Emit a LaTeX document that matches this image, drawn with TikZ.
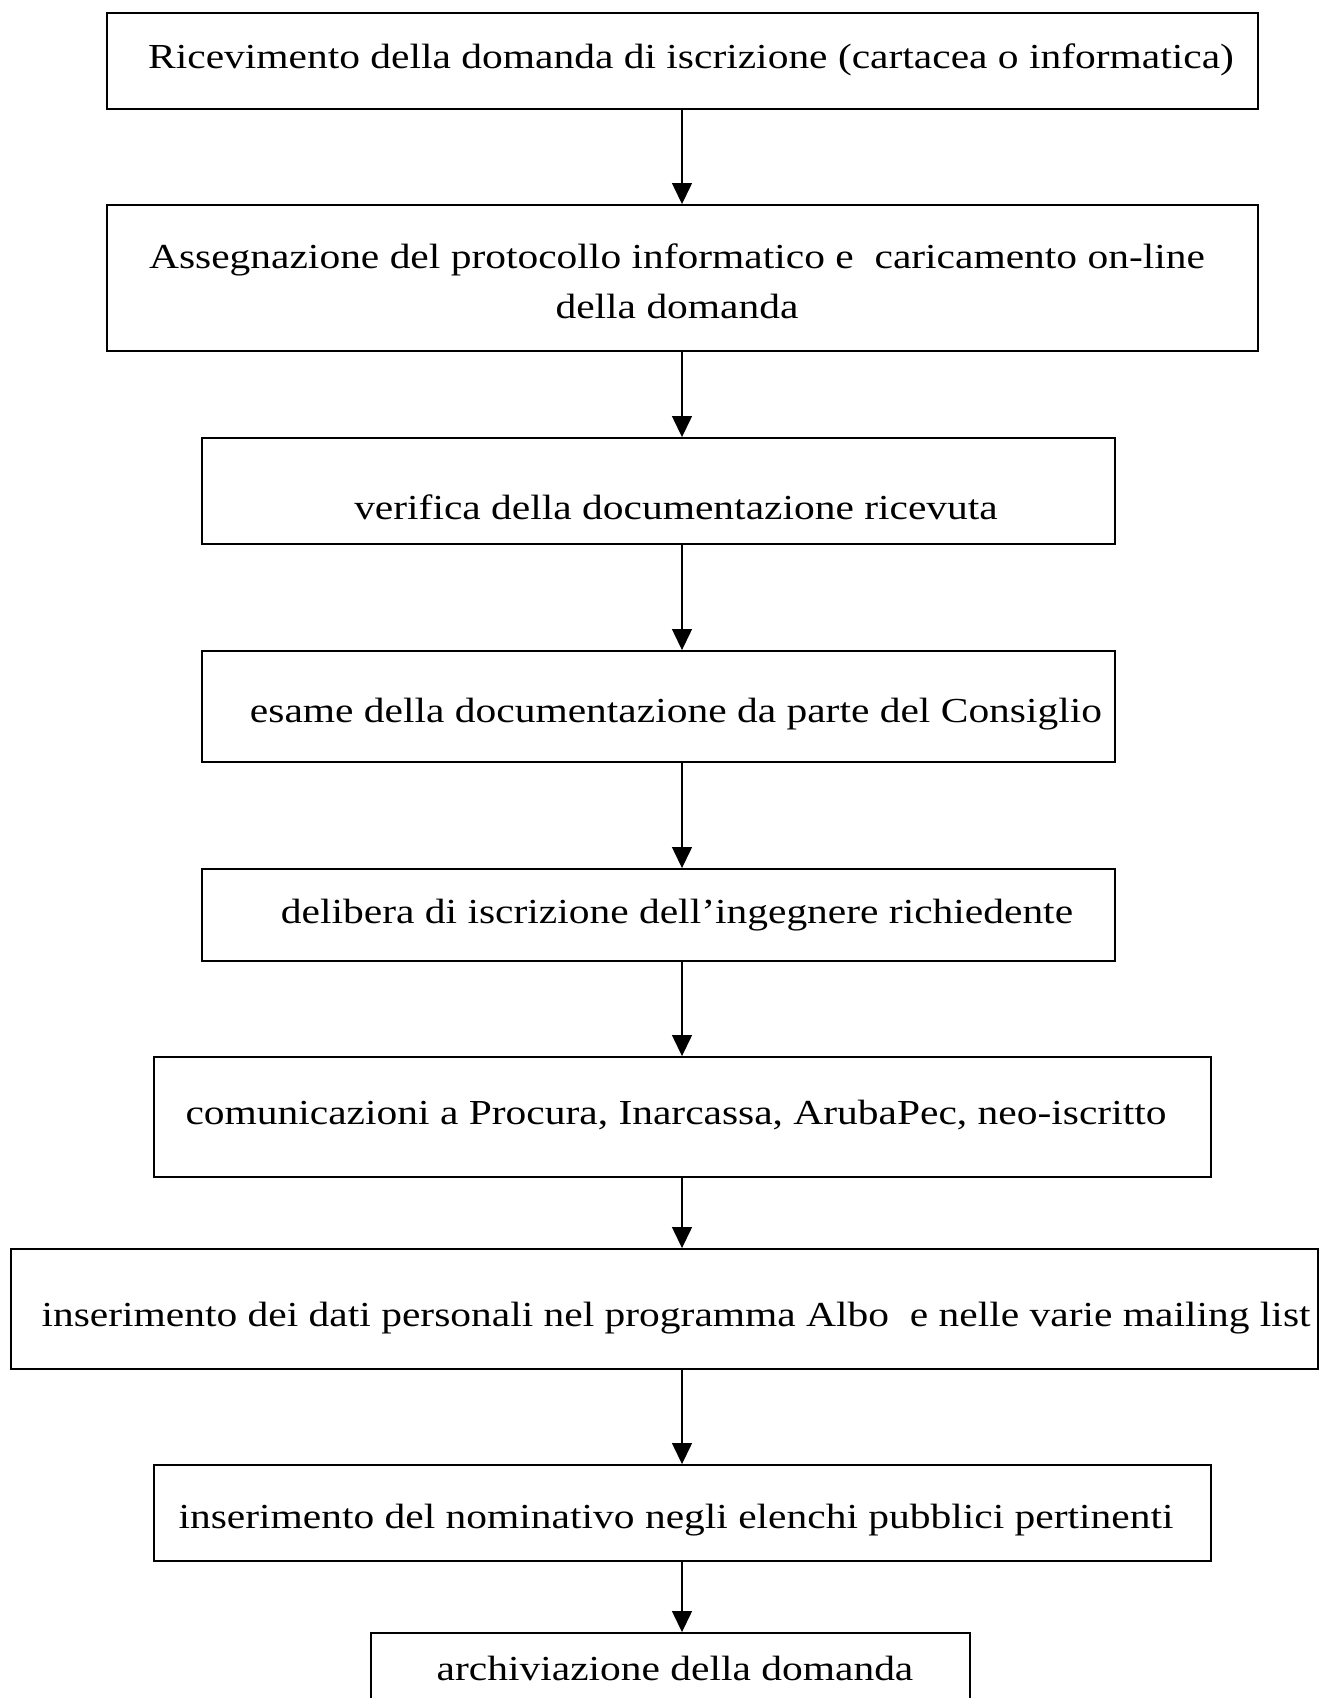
\documentclass[tikz,border=0pt]{standalone}
\usepackage{fontspec}
\setmainfont{Liberation Serif}[FakeStretch=1.18]
\usetikzlibrary{arrows.meta}

\tikzset{
  stepbox/.style={draw,line width=1.1pt,inner sep=0pt},
  steptext/.style={font=\fontsize{20}{28.5}\selectfont,align=center,inner sep=0pt},
  flow/.style={->,line width=0.75pt}
}

\begin{document}
\begin{tikzpicture}[x=0.02cm,y=-0.02cm,>={Triangle[length=0.42cm,width=0.4cm]}]
\useasboundingbox (0,0) rectangle (1319,1698);
\clip (0,0) rectangle (1319,1698);
\coordinate (col) at (682,0);
% boxes
\node[stepbox,minimum width=23.02cm,minimum height=1.92cm] (b1) at (682.5,61) {};
\node[stepbox,minimum width=23.02cm,minimum height=2.92cm] (b2) at (682.5,278) {};
\node[stepbox,minimum width=18.26cm,minimum height=2.12cm] (b3) at (658.5,491) {};
\node[stepbox,minimum width=18.26cm,minimum height=2.22cm] (b4) at (658.5,706.5) {};
\node[stepbox,minimum width=18.26cm,minimum height=1.84cm] (b5) at (658.5,915) {};
\node[stepbox,minimum width=21.14cm,minimum height=2.40cm] (b6) at (682.5,1117) {};
\node[stepbox,minimum width=26.14cm,minimum height=2.40cm] (b7) at (664.5,1309) {};
\node[stepbox,minimum width=21.14cm,minimum height=1.92cm] (b8) at (682.5,1513) {};
\node[stepbox,minimum width=11.98cm,minimum height=2.00cm] (b9) at (670.5,1683) {};
% texts
\node[steptext,anchor=base] (t1) at (691,68) {Ricevimento della domanda di iscrizione (cartacea o informatica)};
\node[steptext] (t2) at (677,281) {Assegnazione del protocollo informatico e~ caricamento on-line\\della domanda};
\node[steptext,anchor=base] (t3) at (676,519) {verifica della documentazione ricevuta};
\node[steptext,anchor=base] (t4) at (676,722) {esame della documentazione da parte del Consiglio};
\node[steptext,anchor=base] (t5) at (677,923) {delibera di iscrizione dell’ingegnere richiedente};
\node[steptext,anchor=base] (t6) at (676,1124) {comunicazioni a Procura, Inarcassa, ArubaPec, neo-iscritto};
\node[steptext,anchor=base] (t7) at (676,1326) {inserimento dei dati personali nel programma Albo~ e nelle varie mailing list};
\node[steptext,anchor=base] (t8) at (676,1528) {inserimento del nominativo negli elenchi pubblici pertinenti};
\node[steptext,anchor=base] (t9) at (675,1680) {archiviazione della domanda};
% arrows
\foreach \i/\j in {1/2,2/3,3/4,4/5,5/6,6/7,7/8,8/9}
  \draw[flow] (b\i.south -| col) -- (b\j.north -| col);
\end{tikzpicture}
\end{document}
